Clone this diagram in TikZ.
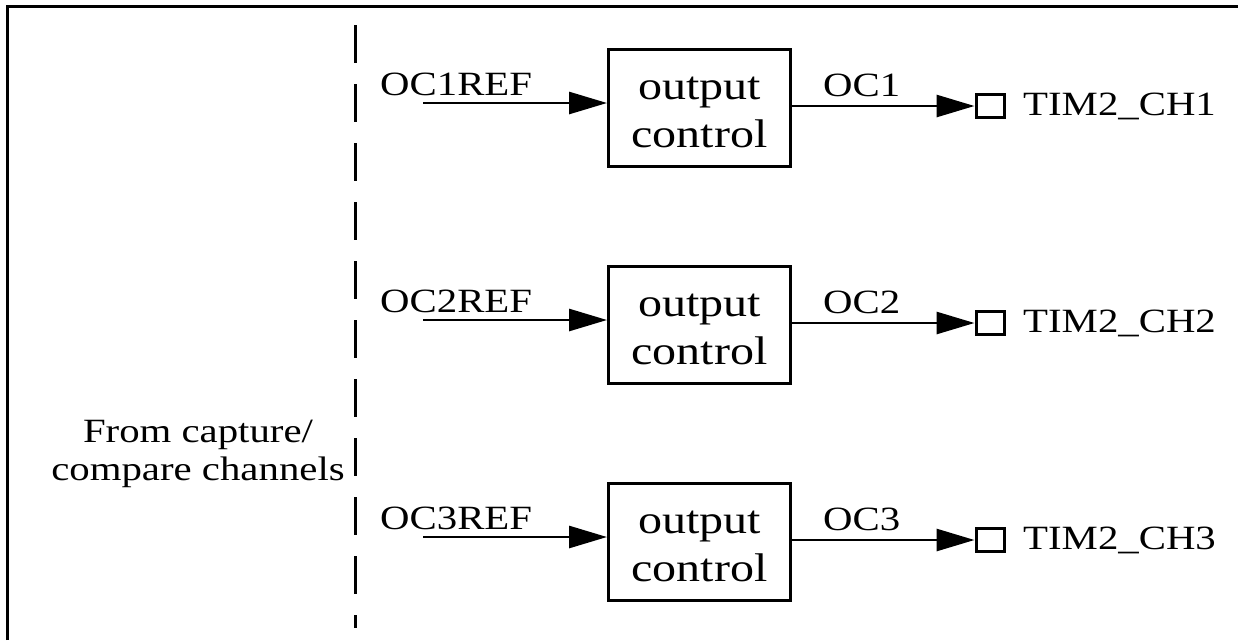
\documentclass[tikz,border=0pt]{standalone}
\usepackage{fontspec}
\setmainfont{Liberation Serif}[FakeStretch=1.2]
\usetikzlibrary{arrows.meta}
\begin{document}
\begin{tikzpicture}[x=1pt,y=-1pt,
  lbl/.style={font=\fontsize{34}{40}\selectfont, inner sep=0pt, anchor=base west},
  ocbox/.style={draw, line width=3pt, minimum width=182pt, minimum height=117pt, inner sep=0pt,
    label={[font=\fontsize{40}{48}\selectfont, align=center, inner sep=0pt, yshift=-4pt]center:output\\control}},
  pinbox/.style={draw, line width=3pt, minimum width=28pt, minimum height=23pt, inner sep=0pt},
  arr/.style={line width=2.8pt, -{Triangle[length=38pt,width=22pt]}},
  frameline/.style={line width=3pt, line join=miter},
  divider/.style={line width=3pt, dash pattern=on 38pt off 21pt}
]
\useasboundingbox (0,0) rectangle (1238,640);
\fill[white] (0,0) rectangle (1238,640);
\draw[frameline] (7,640) -- (7,6) -- (1238,6);
\draw[divider] (355,25) -- (355,628);
\node[font=\fontsize{34}{38}\selectfont, align=center] (src) at (198,454) {From capture/\\compare channels};
\foreach \i/\d in {1/0,2/217,3/434}{
  \node[ocbox] (b\i) at (699.5,108+\d) {};
  \coordinate (s\i) at (423,103+\d);
  \node[lbl] (r\i) at (380,95+\d) {OC\i REF};
  \node[pinbox] (q\i) at (990,106+\d) {};
  \node[lbl] (o\i) at (823,96+\d) {OC\i};
  \node[lbl] (t\i) at (1023,115+\d) {TIM2\_CH\i};
  \draw[arr] (s\i) -- (s\i -| b\i.west);
  \draw[arr] (b\i.east |- q\i) -- (q\i.west);
}
\end{tikzpicture}
\end{document}
